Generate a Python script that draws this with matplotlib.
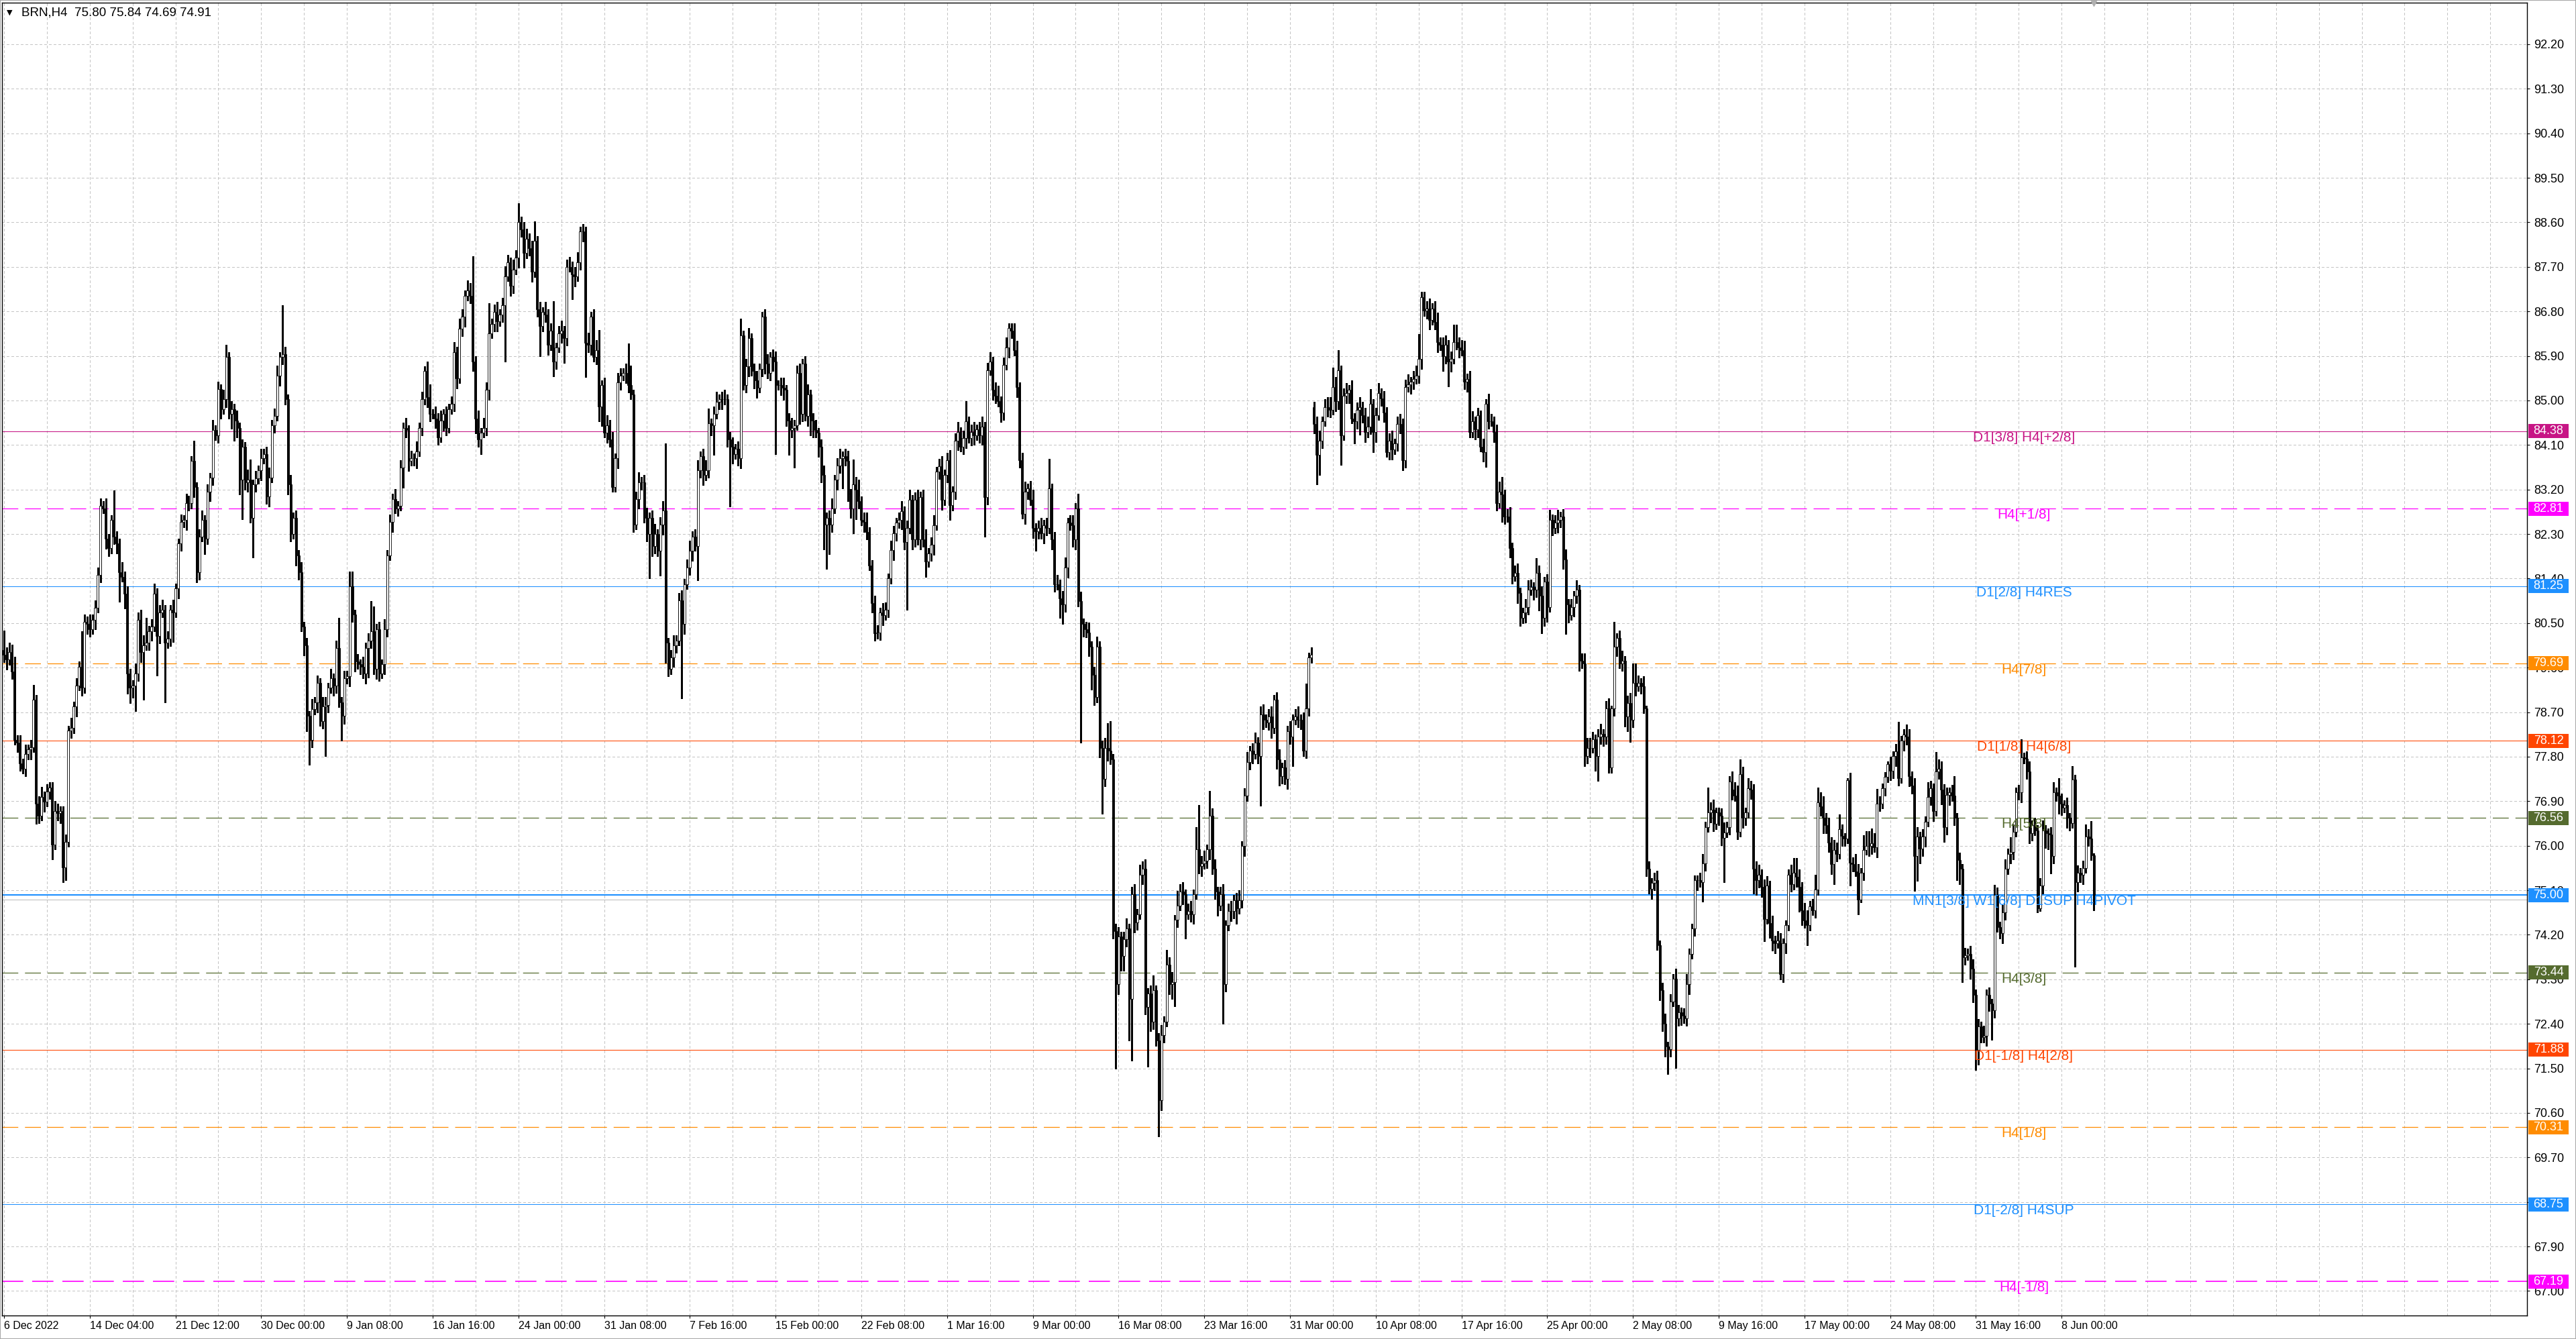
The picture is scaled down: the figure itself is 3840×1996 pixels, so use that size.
import matplotlib
matplotlib.use('Agg')
import matplotlib.pyplot as plt
import numpy as np
from matplotlib.patches import Rectangle
from matplotlib.transforms import blended_transform_factory

plt.rcParams['font.family'] = ['Liberation Sans', 'DejaVu Sans']

# BRN H4 closes left to right (5 stretches)
close_a = [
    79.86, 79.76, 79.91, 79.52, 78.14, 78.09, 77.66, 77.56, 77.85, 77.95,
    77.99, 78.95, 76.85, 76.61, 76.99, 76.89, 77.09, 77.18, 76.03, 76.70,
    76.66, 76.70, 75.56, 76.08, 78.33, 78.38, 78.81, 79.24, 79.62, 79.19,
    80.53, 80.48, 80.38, 80.57, 80.81, 81.48, 82.87, 82.82, 82.20, 82.01,
    82.58, 82.25, 82.11, 81.53, 81.44, 81.10, 79.48, 79.19, 79.24, 79.48,
    80.57, 79.91, 80.05, 80.10, 80.34, 80.43, 81.10, 80.24, 80.72, 80.77,
    80.10, 80.19, 80.77, 80.72, 81.20, 82.11, 82.54, 82.58, 82.92, 82.92,
    83.78, 83.25, 81.53, 82.25, 82.58, 82.20, 83.16, 83.44, 84.40, 84.30,
    85.23, 84.83, 85.02, 85.88, 84.73, 84.83, 84.59, 84.45, 83.40, 84.06,
    83.35, 83.40, 82.63, 83.30, 83.42, 83.59, 83.83, 83.92, 83.06, 83.44,
    84.50, 84.69, 85.50, 85.88, 85.93, 85.02, 83.30, 82.30, 82.63, 81.87,
    81.53, 80.43, 80.05, 78.62, 78.14, 78.76, 78.90, 79.29, 78.52, 78.81,
    78.85, 79.19, 79.38, 79.24, 80.00, 78.90, 78.62, 79.38, 79.43, 81.24,
    80.67, 79.72, 79.67, 79.62, 79.48, 80.00, 80.15, 80.34, 79.57, 80.38,
    79.48, 79.67, 80.38, 81.87, 82.54, 83.01, 82.82, 82.87, 83.64, 84.45,
    84.40, 83.78, 83.83, 83.83, 83.97, 84.45, 85.02, 85.59, 85.07, 84.73,
    84.73, 84.64, 84.26, 84.59, 84.73, 84.45, 84.83]
close_b = [
    84.93, 85.98, 85.45, 86.45, 86.69, 87.12, 87.22, 87.12, 85.79, 84.64,
    84.21, 84.35, 84.45, 85.21, 86.36, 86.55, 86.79, 86.60, 86.74, 86.93,
    87.51, 87.79, 87.32, 87.65, 87.89, 88.61, 88.46, 87.98, 88.27, 88.08,
    87.60, 88.22, 86.84, 86.50, 86.79, 86.74, 86.12, 86.41, 85.79, 86.07,
    86.36, 86.41, 86.26, 87.70, 87.70, 87.55, 87.51, 87.79, 88.41, 88.41,
    86.17, 86.12, 86.69, 85.88, 86.02, 84.88, 85.31, 84.35, 84.50, 84.21,
    83.25, 83.83, 85.36, 85.50, 85.55, 85.55, 85.31, 85.12, 82.49, 83.01,
    83.35, 83.35, 82.63, 82.30, 82.63, 82.06, 82.30, 81.96, 82.49, 82.77,
    80.10, 79.57, 79.81, 80.05, 80.15, 80.96, 80.48, 81.29, 81.63, 81.96,
    82.25, 82.06, 83.59, 83.87, 83.49, 83.59, 84.54, 84.50, 84.73, 84.97,
    85.02, 85.02, 85.02, 84.21, 84.06, 83.92, 84.02, 83.83, 86.31, 85.31,
    85.69, 86.26, 85.60, 85.40, 85.26, 85.64, 86.69, 85.74, 85.55, 85.88,
    85.79, 85.31, 85.31, 85.26, 85.21, 84.59, 84.40, 84.45, 84.50, 85.55,
    84.73, 85.74, 84.69, 85.12, 84.59, 84.40, 84.35, 84.06, 83.49, 82.49,
    82.63, 82.49, 82.82, 83.40, 83.68, 83.83, 83.87, 83.78, 83.11, 82.82,
    83.30, 83.20, 82.96, 82.58, 82.54, 82.34, 81.67, 80.91, 80.29]
close_c = [
    80.31, 80.71, 80.66, 80.77, 81.40, 81.97, 82.31, 82.53, 82.59, 82.76,
    82.14, 82.42, 82.99, 82.19, 82.99, 82.19, 83.05, 82.19, 81.74, 81.91,
    82.08, 82.48, 83.56, 83.67, 82.99, 83.50, 83.79, 82.88, 83.16, 84.19,
    84.36, 84.07, 84.24, 84.58, 84.24, 84.36, 84.30, 84.41, 84.30, 84.47,
    83.05, 85.61, 85.78, 85.21, 85.10, 84.98, 84.76, 85.72, 86.07, 86.46,
    86.41, 86.01, 85.27, 83.79, 82.71, 83.16, 83.22, 82.99, 82.42, 82.36,
    82.42, 82.31, 82.48, 82.42, 83.22, 82.19, 81.28, 81.28, 81.00, 80.88,
    81.62, 82.53, 82.48, 82.19, 82.82, 80.94, 80.49, 80.37, 80.31, 80.03,
    79.46, 79.00, 80.03, 77.98, 77.35, 77.98, 77.92, 77.75, 74.28, 73.20,
    74.16, 73.77, 74.11, 74.33, 72.91, 75.02, 74.45, 74.62, 75.42, 75.53,
    72.74, 73.02, 72.45, 73.08, 72.06, 70.86, 72.17, 72.45, 73.59, 73.20,
    73.25, 74.50, 74.79, 75.07, 75.02, 74.62, 74.68, 74.62, 75.02, 75.93,
    75.59, 75.64, 75.70, 75.93, 76.61, 75.53, 75.07, 74.79, 75.02, 73.20,
    74.39, 74.68, 74.68, 74.90, 74.73, 74.90, 75.99, 77.01, 77.69, 77.92,
    77.86, 78.09, 77.81, 78.66, 78.55, 78.49, 78.61, 78.38, 78.95, 77.75,
    77.41, 77.58, 77.35, 78.32, 78.21, 78.55, 78.61, 78.55, 78.55, 77.92,
    78.78]
close_d = [
    79.80, 79.86, 84.53, 83.90, 84.19, 84.58, 84.87, 84.87, 84.81, 85.27,
    84.98, 85.61, 84.30, 85.10, 85.15, 85.21, 84.64, 84.58, 84.81, 84.87,
    84.70, 84.36, 84.47, 84.93, 84.36, 84.70, 85.15, 85.04, 84.76, 83.96,
    84.19, 84.01, 84.13, 84.53, 84.53, 83.79, 85.27, 85.33, 85.38, 85.44,
    85.50, 85.84, 87.09, 86.81, 86.86, 86.63, 86.86, 86.58, 86.18, 86.12,
    85.89, 86.12, 85.78, 85.84, 86.18, 86.18, 86.07, 86.01, 85.38, 85.44,
    84.36, 84.58, 84.41, 84.70, 84.07, 83.96, 84.93, 84.58, 84.58, 84.36,
    82.93, 83.16, 83.10, 82.65, 82.65, 82.02, 81.45, 81.51, 81.11, 80.60,
    80.71, 80.83, 81.17, 81.23, 81.17, 81.51, 81.05, 80.60, 81.34, 80.83,
    82.59, 82.42, 82.53, 82.59, 82.65, 81.79, 80.88, 80.66, 80.83, 81.05,
    81.17, 79.74, 79.69, 77.81, 77.98, 77.98, 78.15, 77.81, 78.21, 78.26,
    78.21, 78.78, 77.58, 78.78, 80.03, 80.20, 79.69, 79.74, 78.61, 78.89,
    78.55, 79.29, 79.23, 79.29, 79.23, 78.78, 75.53, 75.13, 75.25, 75.30,
    73.99, 73.08, 72.40, 71.94, 71.89, 72.85, 73.31, 72.51, 72.63, 72.57,
    72.51, 73.20, 73.82, 74.33, 75.30, 75.30, 75.27, 75.64, 76.38, 76.67,
    76.73, 76.44, 76.67, 76.61, 76.16, 76.27, 76.38, 77.30, 77.13, 77.01]
close_e = [
    76.28, 77.45, 76.56, 76.67, 77.16, 77.14, 75.53, 75.30, 75.42, 75.17,
    74.52, 75.19, 74.44, 74.08, 74.03, 74.08, 73.40, 74.03, 74.39, 75.42,
    75.22, 75.45, 75.37, 75.17, 74.70, 74.49, 74.39, 74.78, 74.70, 75.11,
    76.88, 76.80, 76.56, 76.41, 76.07, 75.63, 75.92, 75.84, 76.33, 76.20,
    76.15, 77.32, 75.66, 75.63, 75.48, 74.91, 75.45, 75.92, 75.99, 75.99,
    76.05, 75.97, 76.85, 76.85, 77.16, 77.39, 77.65, 77.52, 77.81, 77.91,
    77.37, 78.12, 78.25, 78.20, 77.40, 77.21, 75.79, 76.18, 75.94, 76.18,
    76.49, 76.98, 77.16, 76.70, 77.50, 77.55, 77.14, 76.38, 77.03, 77.08,
    77.01, 76.56, 75.71, 75.53, 73.74, 73.79, 73.82, 73.51, 72.99, 71.87,
    72.35, 72.13, 72.16, 72.99, 72.81, 72.68, 75.01, 74.36, 74.23, 74.65,
    75.53, 75.84, 75.87, 76.28, 77.08, 77.08, 77.78, 77.76, 77.50, 76.25,
    76.41, 76.31, 74.73, 75.19, 76.31, 76.25, 76.23, 75.79, 77.08, 77.01,
    76.85, 76.77, 76.82, 76.56, 76.46, 77.34, 75.27, 75.45, 75.42, 75.55,
    76.18, 76.15, 75.81, 74.91]

# upper / lower shadow lengths in cents, same order as the closes
wick_up_a = [
    40, 15, 20, 15, 30, 10, 15, 10, 20, 10,
    15, 30, 10, 15, 20, 10, 15, 10, 10, 20,
    15, 10, 10, 15, 10, 20, 10, 15, 10, 72,
    15, 10, 20, 10, 15, 15, 15, 10, 20, 10,
    10, 60, 10, 10, 20, 10, 15, 10, 10, 20,
    15, 20, 20, 50, 10, 15, 20, 10, 15, 20,
    10, 15, 10, 20, 10, 10, 15, 10, 20, 15,
    10, 40, 10, 15, 20, 10, 15, 10, 20, 10,
    15, 10, 20, 25, 10, 15, 10, 20, 10, 15,
    10, 20, 40, 10, 15, 10, 20, 10, 15, 20,
    10, 15, 20, 10, 100, 15, 10, 20, 10, 15,
    10, 20, 10, 15, 10, 20, 10, 15, 10, 20,
    15, 10, 20, 10, 15, 60, 10, 15, 10, 30,
    30, 10, 15, 10, 20, 10, 15, 60, 50, 10,
    15, 10, 20, 10, 15, 10, 20, 10, 15, 10,
    20, 10, 15, 10, 20, 10, 15, 10, 20, 25,
    10, 15, 10, 20, 10, 15, 10]
wick_dn_a = [
    15, 20, 10, 15, 10, 20, 15, 10, 15, 10,
    20, 10, 40, 15, 10, 20, 10, 15, 30, 10,
    15, 20, 30, 25, 10, 15, 10, 20, 10, 15,
    10, 20, 15, 10, 20, 10, 15, 10, 20, 15,
    10, 15, 20, 60, 10, 30, 40, 30, 20, 52,
    15, 20, 96, 10, 15, 20, 10, 80, 15, 10,
    120, 10, 15, 60, 10, 20, 15, 10, 20, 15,
    10, 20, 20, 15, 10, 30, 10, 20, 15, 10,
    15, 20, 10, 15, 10, 30, 40, 20, 30, 80,
    15, 20, 10, 80, 15, 10, 20, 10, 15, 20,
    10, 15, 10, 20, 15, 10, 20, 15, 10, 20,
    15, 10, 20, 30, 50, 15, 10, 20, 10, 15,
    100, 15, 10, 20, 15, 10, 50, 15, 10, 20,
    15, 20, 10, 15, 10, 20, 60, 15, 10, 20,
    15, 10, 20, 15, 10, 20, 10, 15, 10, 40,
    15, 20, 10, 15, 20, 10, 15, 10, 20, 15,
    10, 20, 15, 10, 20, 15, 10]
wick_up_b = [
    15, 20, 10, 20, 15, 10, 20, 15, 80, 10,
    15, 10, 20, 15, 60, 10, 15, 20, 10, 15,
    20, 15, 10, 20, 15, 37, 10, 15, 20, 10,
    15, 40, 10, 15, 10, 20, 10, 15, 60, 10,
    15, 20, 10, 15, 20, 10, 15, 20, 10, 15,
    10, 20, 10, 15, 20, 40, 10, 15, 20, 10,
    15, 10, 20, 15, 10, 20, 60, 40, 10, 15,
    20, 10, 15, 20, 10, 15, 20, 10, 15, 20,
    136, 10, 15, 20, 10, 15, 20, 10, 15, 20,
    10, 15, 20, 10, 15, 20, 30, 10, 15, 20,
    10, 15, 20, 10, 15, 20, 10, 15, 35, 10,
    15, 20, 10, 15, 20, 10, 10, 15, 20, 10,
    15, 20, 10, 15, 20, 10, 15, 20, 10, 15,
    20, 10, 15, 20, 10, 15, 20, 10, 15, 20,
    10, 15, 20, 10, 15, 20, 10, 15, 20, 10,
    50, 15, 20, 10, 15, 20, 10, 10, 15]
wick_dn_b = [
    10, 15, 20, 10, 15, 20, 10, 15, 20, 30,
    15, 30, 10, 15, 20, 10, 15, 20, 10, 15,
    115, 10, 20, 15, 10, 20, 15, 30, 10, 15,
    20, 10, 15, 60, 10, 15, 20, 10, 30, 15,
    10, 20, 50, 15, 10, 50, 20, 10, 15, 20,
    70, 15, 20, 10, 15, 30, 40, 10, 20, 15,
    10, 10, 20, 15, 10, 20, 15, 10, 15, 10,
    20, 15, 10, 15, 90, 20, 15, 10, 50, 20,
    40, 15, 10, 20, 15, 10, 150, 20, 10, 15,
    20, 10, 70, 15, 20, 10, 15, 20, 60, 10,
    15, 20, 10, 15, 120, 20, 10, 15, 20, 10,
    15, 20, 10, 15, 20, 10, 15, 20, 10, 15,
    20, 140, 10, 15, 20, 10, 50, 15, 80, 10,
    20, 15, 10, 20, 30, 15, 10, 20, 15, 50,
    90, 60, 15, 10, 20, 15, 60, 10, 15, 20,
    50, 60, 15, 10, 20, 15, 10, 20, 15]
wick_up_c = [
    15, 10, 20, 15, 10, 20, 15, 10, 15, 20,
    10, 15, 20, 10, 15, 20, 10, 15, 20, 10,
    15, 20, 10, 15, 20, 10, 15, 20, 10, 15,
    20, 10, 15, 40, 10, 15, 20, 10, 15, 20,
    10, 15, 20, 10, 15, 20, 10, 15, 20, 10,
    10, 15, 20, 10, 15, 20, 10, 15, 20, 10,
    15, 20, 10, 15, 60, 10, 15, 20, 10, 15,
    20, 10, 15, 20, 10, 30, 20, 10, 15, 20,
    10, 15, 20, 10, 15, 20, 50, 60, 10, 15,
    20, 10, 15, 20, 10, 15, 20, 10, 20, 15,
    20, 10, 15, 30, 10, 15, 20, 10, 30, 15,
    20, 10, 30, 15, 20, 10, 15, 20, 10, 45,
    90, 15, 20, 10, 50, 15, 20, 10, 15, 20,
    10, 15, 20, 10, 15, 20, 10, 15, 20, 10,
    15, 20, 10, 15, 20, 10, 15, 20, 10, 15,
    20, 10, 15, 10, 20, 10, 15, 20, 10, 15,
    50]
wick_dn_c = [
    10, 15, 20, 10, 15, 10, 20, 15, 10, 20,
    15, 137, 10, 20, 15, 10, 20, 15, 30, 10,
    15, 20, 10, 15, 20, 10, 15, 30, 10, 15,
    20, 10, 15, 20, 10, 15, 20, 10, 15, 20,
    80, 15, 10, 20, 15, 10, 20, 15, 10, 20,
    15, 10, 20, 15, 10, 20, 15, 10, 20, 40,
    15, 10, 20, 15, 10, 20, 15, 10, 40, 40,
    15, 20, 10, 15, 20, 10, 240, 15, 10, 20,
    30, 15, 10, 20, 70, 15, 20, 10, 15, 170,
    20, 30, 30, 15, 85, 125, 20, 15, 10, 20,
    15, 120, 20, 15, 10, 74, 20, 15, 10, 20,
    30, 50, 15, 10, 20, 50, 10, 15, 20, 10,
    15, 20, 10, 15, 20, 10, 15, 20, 10, 80,
    15, 10, 20, 15, 30, 10, 15, 20, 10, 15,
    20, 10, 15, 100, 20, 10, 15, 20, 10, 20,
    20, 15, 10, 20, 15, 60, 10, 15, 20, 10,
    15]
wick_up_d = [
    10, 15, 10, 15, 20, 10, 15, 20, 20, 40,
    20, 40, 10, 15, 20, 10, 20, 10, 15, 20,
    10, 15, 20, 30, 10, 15, 20, 10, 15, 10,
    15, 20, 10, 15, 20, 10, 15, 20, 10, 15,
    20, 50, 10, 10, 15, 20, 10, 15, 20, 10,
    15, 20, 10, 15, 35, 35, 10, 15, 20, 10,
    15, 20, 10, 15, 10, 15, 10, 20, 15, 10,
    15, 20, 30, 10, 15, 20, 10, 15, 20, 10,
    10, 15, 20, 15, 10, 30, 15, 20, 10, 15,
    20, 10, 15, 20, 10, 15, 20, 10, 15, 10,
    20, 10, 15, 20, 20, 20, 15, 10, 15, 20,
    10, 15, 20, 5, 50, 10, 15, 20, 10, 15,
    20, 40, 40, 15, 10, 20, 5, 15, 10, 15,
    20, 10, 15, 20, 10, 15, 10, 20, 15, 10,
    15, 20, 10, 10, 10, 10, 15, 20, 10, 50,
    15, 20, 10, 10, 15, 20, 10, 10, 20, 15]
wick_dn_d = [
    15, 10, 20, 60, 40, 15, 10, 20, 15, 10,
    20, 15, 60, 10, 15, 20, 10, 45, 15, 50,
    15, 20, 10, 15, 40, 20, 10, 15, 20, 10,
    15, 20, 10, 15, 20, 20, 15, 10, 20, 15,
    10, 15, 20, 10, 15, 20, 10, 15, 20, 10,
    30, 15, 50, 20, 10, 15, 20, 10, 15, 20,
    10, 10, 20, 15, 10, 20, 30, 15, 10, 20,
    15, 10, 55, 15, 10, 20, 15, 10, 20, 15,
    10, 20, 15, 10, 20, 15, 30, 30, 15, 30,
    10, 15, 10, 20, 15, 20, 60, 15, 10, 20,
    15, 20, 10, 20, 15, 20, 10, 30, 50, 15,
    20, 15, 10, 10, 15, 20, 10, 15, 20, 30,
    45, 15, 20, 10, 15, 10, 15, 10, 20, 15,
    10, 20, 15, 20, 50, 15, 10, 100, 15, 20,
    10, 15, 20, 10, 15, 20, 10, 40, 15, 10,
    20, 15, 10, 20, 15, 90, 10, 15, 20, 10]
wick_up_e = [
    20, 30, 15, 10, 20, 15, 10, 15, 20, 10,
    15, 20, 10, 15, 10, 20, 15, 10, 10, 10,
    20, 30, 30, 15, 10, 15, 20, 10, 15, 30,
    30, 20, 20, 10, 15, 10, 20, 15, 30, 10,
    5, 5, 15, 10, 20, 15, 10, 30, 30, 30,
    30, 20, 30, 15, 10, 10, 5, 15, 10, 15,
    60, 10, 10, 20, 15, 10, 15, 20, 10, 15,
    10, 30, 15, 10, 40, 20, 15, 10, 15, 10,
    15, 40, 10, 15, 10, 15, 10, 15, 20, 10,
    15, 10, 20, 10, 15, 10, 20, 15, 10, 15,
    20, 10, 30, 15, 10, 15, 37, 10, 15, 20,
    10, 15, 10, 15, 20, 10, 10, 15, 20, 10,
    35, 20, 10, 15, 10, 27, 10, 15, 10, 15,
    25, 15, 35, 4]
wick_dn_e = [
    15, 10, 20, 15, 10, 20, 50, 30, 15, 20,
    45, 10, 30, 20, 20, 10, 10, 15, 20, 10,
    15, 10, 20, 50, 30, 15, 40, 10, 10, 15,
    10, 20, 30, 15, 20, 20, 40, 15, 10, 20,
    15, 10, 47, 15, 10, 30, 5, 15, 10, 20,
    15, 10, 20, 15, 10, 15, 10, 20, 15, 20,
    15, 10, 20, 15, 20, 15, 70, 50, 30, 15,
    20, 10, 15, 20, 10, 15, 30, 30, 15, 20,
    10, 15, 40, 30, 50, 15, 10, 20, 15, 40,
    30, 10, 10, 20, 15, 60, 15, 10, 10, 20,
    15, 10, 20, 15, 10, 15, 20, 10, 15, 20,
    15, 10, 8, 5, 15, 30, 30, 35, 15, 10,
    20, 15, 10, 20, 15, 10, 171, 20, 15, 20,
    10, 15, 10, 22]

first_open = 79.95
gap_opens = {489: 84.87}   # weekend gap at the start of April

time_labels = ['6 Dec 2022', '14 Dec 04:00', '21 Dec 12:00', '30 Dec 00:00',
               '9 Jan 08:00', '16 Jan 16:00', '24 Jan 00:00', '31 Jan 08:00',
               '7 Feb 16:00', '15 Feb 00:00', '22 Feb 08:00', '1 Mar 16:00',
               '9 Mar 00:00', '16 Mar 08:00', '23 Mar 16:00', '31 Mar 00:00',
               '10 Apr 08:00', '17 Apr 16:00', '25 Apr 00:00', '2 May 08:00',
               '9 May 16:00', '17 May 00:00', '24 May 08:00', '31 May 16:00',
               '8 Jun 00:00']

level_prices = [84.38, 82.81, 81.25, 79.69, 78.12, 76.56, 75.00, 73.44, 71.88, 70.31, 68.75, 67.19]
level_names = ['D1[3/8] H4[+2/8]', 'H4[+1/8]', 'D1[2/8] H4RES', 'H4[7/8]',
               'D1[1/8] H4[6/8]', 'H4[5/8]', 'MN1[3/8] W1[6/8] D1SUP H4PIVOT',
               'H4[3/8]', 'D1[-1/8] H4[2/8]', 'H4[1/8]', 'D1[-2/8] H4SUP', 'H4[-1/8]']
level_colors = ['#C71585', '#FF00FF', '#1E90FF', '#FF8C00', '#FF4500', '#556B2F',
                '#1E90FF', '#556B2F', '#FF4500', '#FF8C00', '#1E90FF', '#FF00FF']
level_dashed = [False, True, False, True, False, True, False, True, False, True, False, True]
level_width = [0.75, 0.9, 0.75, 0.9, 0.75, 0.9, 1.5, 0.9, 0.75, 0.9, 0.75, 1.2]

bid = 74.91
price_ticks = [round(92.2 - 0.9 * k, 2) for k in range(29)]

closes = np.array(close_a + close_b + close_c + close_d + close_e)
up_w = np.array(wick_up_a + wick_up_b + wick_up_c + wick_up_d + wick_up_e) / 100
dn_w = np.array(wick_dn_a + wick_dn_b + wick_dn_c + wick_dn_d + wick_dn_e) / 100
n = len(closes)
opens = np.empty(n)
opens[0] = first_open
opens[1:] = closes[:-1]
for i, v in gap_opens.items():
    opens[i] = v
highs = np.maximum(opens, closes) + up_w
lows = np.minimum(opens, closes) - dn_w

W, H = 3840, 1996
fig = plt.figure(figsize=(W / 100, H / 100), dpi=100)
ax = fig.add_axes([3 / W, 35 / H, 3764 / W, 1957 / H])
ax.set_facecolor('white')

bars_per_label = 32
ax.set_xlim(-0.73, 941.7)
ax.set_ylim(66.505, 93.04)

# grid
for v in price_ticks:
    ax.axhline(v, color='#C4C4C4', lw=0.75, ls=(0, (3, 3)), zorder=0, antialiased=False)
for xg in range(0, 942, bars_per_label // 2):
    ax.axvline(xg, color='#C4C4C4', lw=0.75, ls=(0, (3, 3)), zorder=0, antialiased=False)

# murrey levels
for p, c, d, lw in zip(level_prices, level_colors, level_dashed, level_width):
    ls = (0, (19, 8)) if d else '-'
    ax.axhline(p, color=c, lw=lw, ls=ls, zorder=1)
ax.axhline(bid, color='#BDBDBD', lw=0.75, zorder=1)

# candles
x = np.arange(n)
ax.vlines(x, lows, highs, color='black', lw=0.75, zorder=3, antialiased=False)
bull = closes >= opens
ax.bar(x[bull], (closes - opens)[bull], bottom=opens[bull], width=0.75,
       color='white', edgecolor='black', linewidth=0.6, zorder=4)
ax.bar(x[~bull], (opens - closes)[~bull], bottom=closes[~bull], width=0.75,
       color='black', edgecolor='black', linewidth=0.6, zorder=4)

for p, c, name in zip(level_prices, level_colors, level_names):
    ax.text(753.9, p, name, color=c, fontsize=15, ha='center', va='top', zorder=6)

# axes
for s in ax.spines.values():
    s.set_color('black')
    s.set_linewidth(1.0)
ax.yaxis.tick_right()
ax.set_yticks(price_ticks)
ax.set_yticklabels([f'{v:.2f}' for v in price_ticks])
ax.tick_params(axis='y', direction='out', length=3, width=0.8, pad=4.5, labelsize=13)
ax.set_xticks([k * bars_per_label for k in range(len(time_labels))])
ax.set_xticklabels(time_labels)
for lab in ax.get_xticklabels():
    lab.set_horizontalalignment('left')
ax.tick_params(axis='x', direction='out', length=3, width=0.8, pad=3, labelsize=11.5)

# price tags on the scale
tr = blended_transform_factory(fig.transFigure, ax.transData)
tag_h = 21 / 73.75
for p, c in zip(level_prices, level_colors):
    fig.add_artist(Rectangle((3769 / W, p - tag_h / 2), 60 / W, tag_h,
                             transform=tr, facecolor=c, edgecolor='none', zorder=5))
    fig.text(3799 / W, p, f'{p:.2f}', transform=tr, color='white', fontsize=13,
             ha='center', va='center', zorder=6)

# header
fig.text(10 / W, 1 - 19 / H, '\u25BC', fontsize=8, family='DejaVu Sans', va='center', ha='left')
fig.text(32 / W, 1 - 19.5 / H, 'BRN,H4  75.80 75.84 74.69 74.91', fontsize=13.5,
         va='center', ha='left')
ax.plot([780], [93.04], marker='v', color='#B0B0B0', ms=7, clip_on=False, zorder=7)

fig.add_artist(Rectangle((0, 0), 1, 1, transform=fig.transFigure, fill=False,
                         edgecolor='#A8A8A8', lw=1.5))

fig.savefig('out.png', dpi=100, facecolor='white')
